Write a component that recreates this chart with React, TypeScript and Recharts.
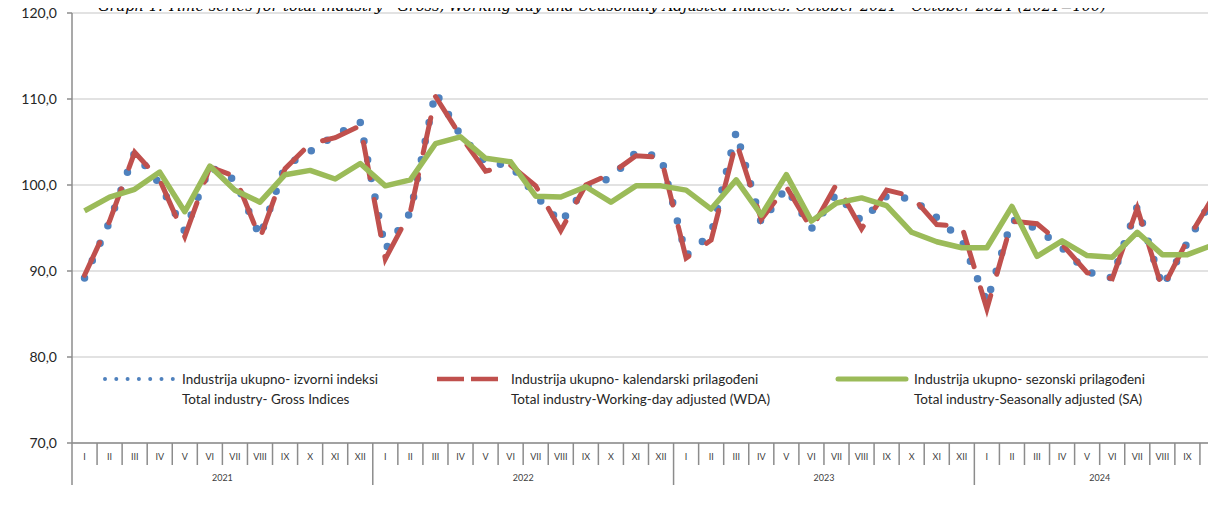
import { LineChart, Line, XAxis, YAxis, CartesianGrid, Legend } from 'recharts';

const months = ['I', 'II', 'III', 'IV', 'V', 'VI', 'VII', 'VIII', 'IX', 'X', 'XI', 'XII'];
const years = ['2021', '2022', '2023', '2024'];
const monthsPerYear = [12, 12, 12, 10];

// Industrija ukupno - izvorni indeksi (gross)
const gross = [
  89.2, 95.7, 103.8, 100.1, 94.6, 102.1, 100.6, 94.0, 102.2, 103.9, 105.8, 107.3,
  92.5, 96.8, 110.8, 105.8, 102.6, 102.3, 98.8, 95.6, 99.8, 100.8, 103.8, 103.3,
  91.8, 94.3, 106.2, 95.6, 99.7, 94.9, 99.0, 95.8, 98.7, 98.4, 96.2, 93.6,
  86.4, 96.0, 94.9, 92.7, 89.9, 89.2, 97.5, 88.2, 93.3, 98.4,
];

// kalendarski prilagodjeni (WDA)
const wda = [
  89.5, 95.8, 103.8, 100.6, 94.0, 102.1, 101.0, 93.8, 101.9, 104.8, 105.5, 106.9,
  91.4, 96.9, 110.3, 105.7, 101.6, 102.3, 99.9, 94.7, 100.0, 101.3, 103.4, 103.2,
  91.5, 93.6, 105.0, 96.0, 99.8, 94.9, 100.1, 94.9, 99.4, 98.7, 95.4, 95.2,
  85.6, 95.8, 95.5, 93.1, 89.8, 89.1, 97.3, 87.9, 93.6, 98.5,
];

// sezonski prilagodjeni (SA)
const sa = [
  97.0, 98.6, 99.5, 101.5, 96.9, 102.2, 99.4, 98.0, 101.2, 101.7, 100.7, 102.5,
  99.9, 100.6, 104.8, 105.6, 103.1, 102.7, 98.7, 98.6, 99.8, 98.0, 99.9, 99.9,
  99.4, 97.2, 100.6, 96.5, 101.2, 95.8, 97.9, 98.5, 97.6, 94.5, 93.4, 92.7,
  92.7, 97.5, 91.7, 93.5, 91.8, 91.6, 94.5, 91.9, 91.9, 93.0,
];

const yTicks = [70, 80, 90, 100, 110, 120];

const title =
  'Graph 1. Time series for total industry - Gross, Working-day and Seasonally Adjusted Indices: October 2021 - October 2024 (2021=100)';

const legendLabels = {
  gross: ['Industrija ukupno- izvorni indeksi', 'Total industry- Gross Indices'],
  wda: ['Industrija ukupno- kalendarski prilagođeni', 'Total industry-Working-day adjusted (WDA)'],
  sa: ['Industrija ukupno- sezonski prilagođeni', 'Total industry-Seasonally adjusted (SA)'],
};

const data = years.flatMap((year, yi) =>
  months.slice(0, monthsPerYear[yi]).map((month) => ({ year, month }))
).map((c, i) => ({ ...c, gross: gross[i], wda: wda[i], sa: sa[i] }));

const W = 1240;
const H = 512;
const MARGIN = { top: 13, right: 15, left: 0, bottom: 0 };
const Y_W = 72;
const BAND = (W - MARGIN.left - MARGIN.right - Y_W) / data.length;

const BLUE = '#4F81BD';
const RED = '#C0504D';
const GREEN = '#9BBB59';
const AXIS = '#8C8C8C';
const FONT = 'Lato, "Open Sans", sans-serif';

function MonthTick(props: any) {
  const { x, y, payload } = props;
  const i = payload.index ?? props.index;
  const row = data[i];
  const left = x - BAND / 2;
  const yearStart = row.month === 'I';
  const n = data.filter((d) => d.year === row.year).length;
  return (
    <g>
      <line x1={left} x2={left} y1={y} y2={y + (yearStart ? 42 : 22)} stroke={AXIS} strokeWidth={1.5} />
      <text x={x} y={y + 17} textAnchor="middle" fontSize={9} fontFamily={FONT} fill="#404040">
        {payload.value}
      </text>
      {yearStart && (
        <text x={left + (n * BAND) / 2} y={y + 38} textAnchor="middle" fontSize={9} fontFamily={FONT} fill="#404040">
          {row.year}
        </text>
      )}
    </g>
  );
}

function ChartLegend() {
  const items = [
    { key: 'gross', tx: 182 },
    { key: 'wda', tx: 511 },
    { key: 'sa', tx: 914 },
  ];
  return (
    <div style={{ position: 'relative', width: W, height: H }}>
      <svg width={W} height={H} style={{ position: 'absolute', left: 0, top: 0 }}>
        <line x1={105} x2={175} y1={379} y2={379} stroke={BLUE} strokeWidth={4} strokeDasharray="0 11.3" strokeLinecap="round" />
        <line x1={437} x2={503} y1={379} y2={379} stroke={RED} strokeWidth={4.5} strokeDasharray="27 7" />
        <line x1={838} x2={906} y1={379} y2={379} stroke={GREEN} strokeWidth={5} strokeLinecap="round" />
      </svg>
      {items.map((it) => (
        <div
          key={it.key}
          style={{
            position: 'absolute',
            left: it.tx,
            top: 369,
            fontFamily: FONT,
            fontSize: 13.5,
            lineHeight: '20px',
            color: '#262626',
            whiteSpace: 'nowrap',
          }}
        >
          {legendLabels[it.key as keyof typeof legendLabels].map((t) => (
            <div key={t}>{t}</div>
          ))}
        </div>
      ))}
    </div>
  );
}

export default function App() {
  return (
    <div style={{ margin: -8, width: 1216, height: 512, overflow: 'hidden', position: 'relative', background: '#fff' }}>
      <LineChart width={W} height={H} data={data} margin={MARGIN}>
        <CartesianGrid stroke="#D9D9D9" strokeWidth={1.5} vertical={false} />
        <XAxis
          dataKey="month"
          interval={0}
          height={H - 443}
          padding={{ left: BAND / 2, right: BAND / 2 }}
          tickLine={false}
          tickSize={0}
          tickMargin={0}
          axisLine={{ stroke: AXIS, strokeWidth: 1.5 }}
          tick={<MonthTick />}
        />
        <YAxis
          width={Y_W}
          domain={[70, 120]}
          ticks={yTicks}
          interval={0}
          tickSize={5}
          tickMargin={10}
          axisLine={{ stroke: AXIS, strokeWidth: 1.5 }}
          tickLine={{ stroke: AXIS, strokeWidth: 1.5 }}
          tick={{ fontSize: 14, fontFamily: FONT, fill: '#262626' }}
          tickFormatter={(v: number) => v.toFixed(1).replace('.', ',')}
        />
        <Legend
          layout="horizontal"
          verticalAlign="middle"
          align="center"
          content={<ChartLegend />}
          wrapperStyle={{ left: 0, top: 0, width: W, height: H, pointerEvents: 'none' }}
        />
        <Line
          type="linear"
          dataKey="gross"
          stroke={BLUE}
          strokeWidth={7.5}
          strokeDasharray="0 19"
          strokeLinecap="round"
          dot={false}
          activeDot={false}
          isAnimationActive={false}
        />
        <Line
          type="linear"
          dataKey="wda"
          stroke={RED}
          strokeWidth={5}
          strokeDasharray="36 22"
          strokeLinecap="round"
          dot={false}
          activeDot={false}
          isAnimationActive={false}
        />
        <Line
          type="linear"
          dataKey="sa"
          stroke={GREEN}
          strokeWidth={5.5}
          strokeLinejoin="round"
          dot={false}
          activeDot={false}
          isAnimationActive={false}
        />
      </LineChart>
      <div
        style={{
          position: 'absolute',
          left: 0,
          top: -2,
          width: 1204,
          textAlign: 'center',
          fontFamily: '"DejaVu Serif", serif',
          fontStyle: 'italic',
          fontSize: 14.6,
          lineHeight: '15px',
          color: '#000',
          whiteSpace: 'nowrap',
          zIndex: 5,
        }}
      >
        {title}
      </div>
    </div>
  );
}
